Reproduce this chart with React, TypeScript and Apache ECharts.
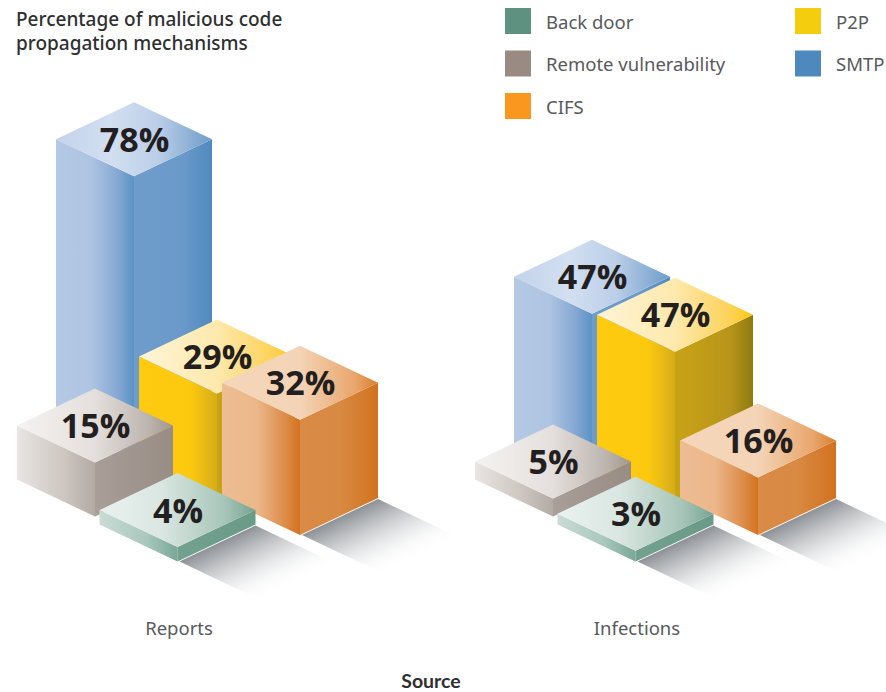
import React, { useEffect, useRef } from "react";
import * as echarts from "echarts";

const titleText = "Percentage of malicious code\npropagation mechanisms";
const categories = ["Reports", "Infections"];
const axisTitle = "Source";

const smtp = [78, 47];
const p2p = [29, 47];
const remote = [15, 5];
const cifs = [32, 16];
const backDoor = [4, 3];

const legendLeft = ["Back door", "Remote vulnerability", "CIFS"];
const legendRight = ["P2P", "SMTP"];

type Stops = [number, string][];
const HALF_W = 78;
const HALF_H = 37;

function grad(stops: Stops) {
  return new echarts.graphic.LinearGradient(
    0, 0, 1, 0,
    stops.map(([offset, color]) => ({ offset, color }))
  );
}

function shadowFill(px: number, py: number, ex: number, ey: number) {
  // isolines run along the bar's front-right edge, fading towards the lower right
  const len = Math.hypot(HALF_W, HALF_H);
  const nx = HALF_H / len;
  const ny = HALF_W / len;
  const d = ex * nx + ey * ny;
  return new echarts.graphic.LinearGradient(
    px, py, px + nx * d, py + ny * d,
    [
      { offset: 0, color: "rgba(118,122,128,0.85)" },
      { offset: 0.45, color: "rgba(190,193,196,0.62)" },
      { offset: 1, color: "rgba(255,255,255,0)" },
    ],
    true
  );
}

function makeSeries(
  name: string,
  values: number[],
  color: string,
  dx: number,
  depth: number,
  drop: number[],
  hasShadow: boolean,
  left: Stops,
  right: Stops,
  top: Stops
) {
  return {
    type: "custom",
    name,
    itemStyle: { color },
    silent: true,
    data: values.map((v, i) => [i, v]),
    encode: { x: 0, y: 1 },
    renderItem: (params: any, api: any) => {
      const cat = api.value(0);
      const val = api.value(1);
      const t = api.coord([cat, val]);
      const b = api.coord([cat, 0]);
      const cx = t[0] + dx;
      const off = depth + drop[params.dataIndex];
      const baseY = b[1] + off;
      const topY = t[1] + off;
      const children: any[] = [];
      children.push({
        type: "polygon",
        shape: { points: [[cx - HALF_W, topY], [cx, topY + HALF_H], [cx, baseY + HALF_H], [cx - HALF_W, baseY]] },
        style: { fill: grad(left) },
      });
      children.push({
        type: "polygon",
        shape: { points: [[cx, topY + HALF_H], [cx + HALF_W, topY], [cx + HALF_W, baseY], [cx, baseY + HALF_H]] },
        style: { fill: grad(right) },
      });
      children.push({
        type: "polygon",
        shape: { points: [[cx - HALF_W, topY], [cx, topY - HALF_H], [cx + HALF_W, topY], [cx, topY + HALF_H]] },
        style: { fill: grad(top) },
      });
      if (hasShadow) {
        const ex = 82;
        const ey = 39;
        children.push({
          type: "polygon",
          shape: {
            points: [
              [cx + 2, baseY + HALF_H],
              [cx + HALF_W, baseY + 1],
              [cx + HALF_W + ex, baseY + 1 + ey],
              [cx + 2 + ex, baseY + HALF_H + ey],
            ],
          },
          style: { fill: shadowFill(cx, baseY + HALF_H, ex, ey) },
        });
      }
      children.push({
        type: "text",
        x: cx + 0.5,
        y: topY - 0.5,
        style: {
          text: val + "%",
          fill: "#231f20",
          fontFamily: "'Open Sans', sans-serif",
          fontWeight: 700,
          fontSize: 34,
          align: "center",
          verticalAlign: "middle",
        },
      });
      return { type: "group", children };
    },
  };
}

export default function App() {
  const ref = useRef<HTMLDivElement>(null);
  useEffect(() => {
    const chart = echarts.init(ref.current!, undefined, { renderer: "svg" });
    const legendCommon = {
      orient: "vertical",
      top: 8,
      padding: 0,
      icon: "rect",
      itemWidth: 26,
      itemHeight: 26,
      itemGap: 16.5,
      selectedMode: false,
      textStyle: {
        fontFamily: "'Noto Sans', sans-serif",
        fontSize: 18.5,
        color: "#58595b",
        padding: [0, 0, 0, 10],
      },
    };
    chart.setOption({
      animation: false,
      backgroundColor: "#ffffff",
      title: {
        text: titleText,
        left: 16,
        top: 7,
        padding: 0,
        textStyle: {
          fontFamily: "'Noto Sans', sans-serif",
          fontSize: 19,
          fontWeight: 500,
          color: "#2f2f30",
          lineHeight: 24,
        },
      },
      legend: [
        { ...legendCommon, left: 505, data: legendLeft },
        { ...legendCommon, left: 795, data: legendRight },
      ],
      grid: { left: -50, width: 916, top: 240, height: 360, containLabel: false, outerBoundsMode: "none" },
      xAxis: {
        type: "category",
        data: categories,
        axisLine: { show: false },
        axisTick: { show: false },
        axisLabel: {
          margin: 18,
          fontFamily: "'Noto Sans', sans-serif",
          fontSize: 18.5,
          color: "#58595b",
        },
        name: axisTitle,
        nameLocation: "middle",
        nameGap: 70,
        nameTextStyle: {
          fontFamily: "Lato, sans-serif",
          fontSize: 19.5,
          fontWeight: 700,
          color: "#2f2f30",
          padding: [0, 0, 0, 46],
        },
      },
      yAxis: { type: "value", min: 0, max: 100, show: false },
      series: [
        makeSeries("SMTP", smtp, "#4e89bd", -45, -180, [0, 26], false,
          [[0, "#b5c9e4"], [0.45, "#aec4e2"], [0.78, "#86a9d3"], [1, "#5a93c6"]],
          [[0, "#6e9dcc"], [0.6, "#6b9aca"], [1, "#4f8abf"]],
          [[0, "#c3d3ea"], [0.35, "#d2dff1"], [0.65, "#bccfe8"], [1, "#6d9cc9"]]),
        makeSeries("P2P", p2p, "#f3cd0e", 38, -139, [0, 23], false,
          [[0, "#ffcb0f"], [0.65, "#fdc90f"], [1, "#d6ad18"]],
          [[0, "#c9a316"], [0.7, "#b8951a"], [1, "#8f7a10"]],
          [[0, "#fff4d6"], [0.5, "#fee9ad"], [0.85, "#fdd25a"], [1, "#fcc710"]]),
        makeSeries("Remote vulnerability", remote, "#998b82", -84, -120.5, [0, 0], false,
          [[0, "#e8e5e2"], [0.6, "#cdc6c1"], [1, "#b3aaa4"]],
          [[0, "#a99f98"], [1, "#988c85"]],
          [[0, "#f5f3f2"], [0.5, "#e4dfdc"], [0.85, "#bcb3ad"], [1, "#a1968f"]]),
        makeSeries("CIFS", cifs, "#f9971f", 121, -102, [0, 0], true,
          [[0, "#edbd93"], [0.45, "#ecb78a"], [0.8, "#dd8d4b"], [1, "#d4731f"]],
          [[0, "#d98b47"], [0.5, "#d88a43"], [1, "#d2721f"]],
          [[0, "#f5d6ba"], [0.5, "#f4d4b6"], [0.85, "#e9a66c"], [1, "#d97f30"]]),
        makeSeries("Back door", backDoor, "#5f9180", -1.5, -75.5, [0, 0], true,
          [[0, "#c9dcd5"], [0.6, "#a9c8bd"], [1, "#79a797"]],
          [[0, "#73a18f"], [1, "#6a9a88"]],
          [[0, "#eaf2ef"], [0.4, "#d9e6e1"], [0.8, "#a7c5b8"], [1, "#76a392"]]),
      ],
    });
    return () => chart.dispose();
  }, []);
  return (
    <div
      ref={ref}
      style={{ position: "absolute", left: 0, top: 0, width: 886, height: 692 }}
    />
  );
}
